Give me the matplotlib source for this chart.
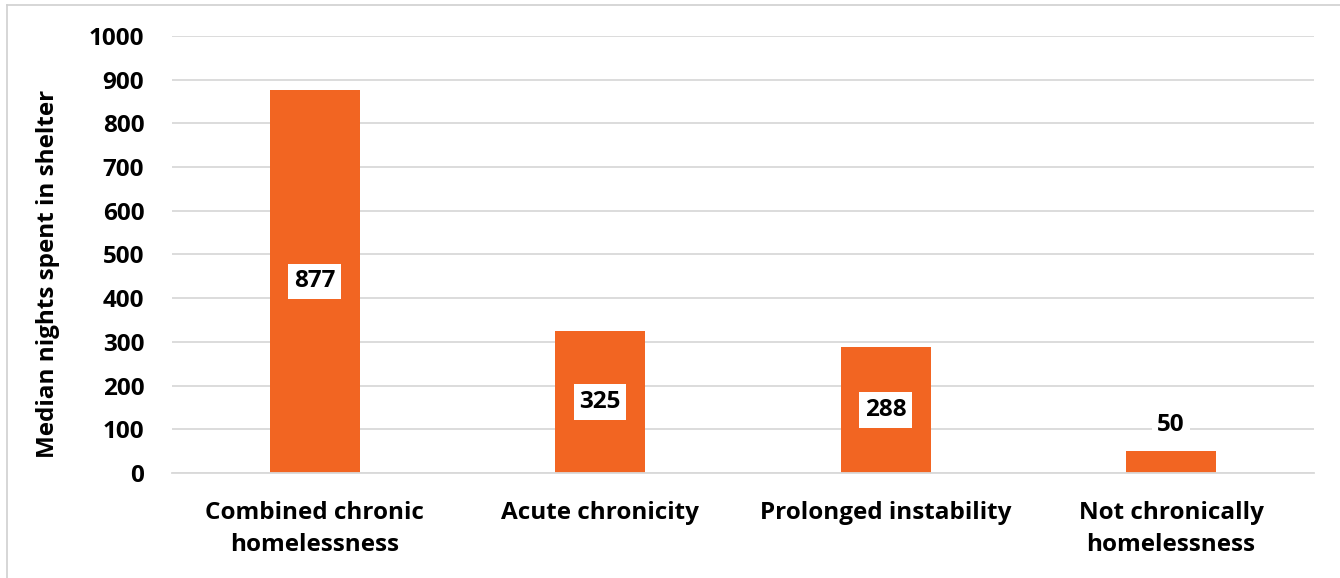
import matplotlib.pyplot as plt
from matplotlib.lines import Line2D

categories = ['Combined chronic\nhomelessness', 'Acute chronicity',
              'Prolonged instability', 'Not chronically\nhomelessness']
median_nights = [877, 325, 288, 50]
yticks = [0, 100, 200, 300, 400, 500, 600, 700, 800, 900, 1000]

plt.rcParams['font.family'] = ['Open Sans', 'DejaVu Sans']
plt.rcParams['font.weight'] = 'bold'

orange = '#F26522'
grid_col = '#D9D9D9'

fig = plt.figure(figsize=(13.4, 5.78), dpi=100)
ax = fig.add_axes([0.1284, 0.1817, 0.852, 0.756])

x = range(len(categories))
bars = ax.bar(x, median_nights, width=0.315, color=orange, zorder=2)

ax.set_xlim(-0.5, len(categories) - 0.5)
ax.set_ylim(0, 1000)
ax.set_yticks(yticks)
ax.yaxis.grid(True, color=grid_col, linewidth=1.3, zorder=0)
ax.set_axisbelow(True)
for s in ['top', 'right', 'left']:
    ax.spines[s].set_visible(False)
ax.spines['bottom'].set_color(grid_col)
ax.spines['bottom'].set_linewidth(1.3)
ax.tick_params(axis='both', length=0)
ax.tick_params(axis='y', pad=20, labelsize=17.5)
ax.tick_params(axis='x', pad=20, labelsize=17.5)
ax.set_xticks(list(x))
ax.set_xticklabels(categories, fontweight='bold', linespacing=1.45)
for lbl in ax.get_yticklabels():
    lbl.set_fontweight('bold')
ax.set_ylabel('Median nights spent in shelter', fontsize=17.5,
              fontweight='bold')
ax.yaxis.set_label_coords(-0.098, 0.455)

# value labels: centred inside the tall bars, above the short one
for i, v in enumerate(median_nights):
    if v > 150:
        ypos = v / 2
    else:
        ypos = v + 60
    ax.text(i, ypos, str(v), ha='center', va='center', fontsize=17.5,
            fontweight='bold', zorder=3,
            bbox=dict(facecolor='white', edgecolor='none', pad=4))

# thin frame along the top and left edges
fig.add_artist(Line2D([0.0052, 1.0], [0.9913, 0.9913], color='#D0D0D0', lw=1.2))
fig.add_artist(Line2D([0.0052, 0.0052], [0.0, 0.9913], color='#D0D0D0', lw=1.2))

fig.savefig('out.png', dpi=100, facecolor='white')
